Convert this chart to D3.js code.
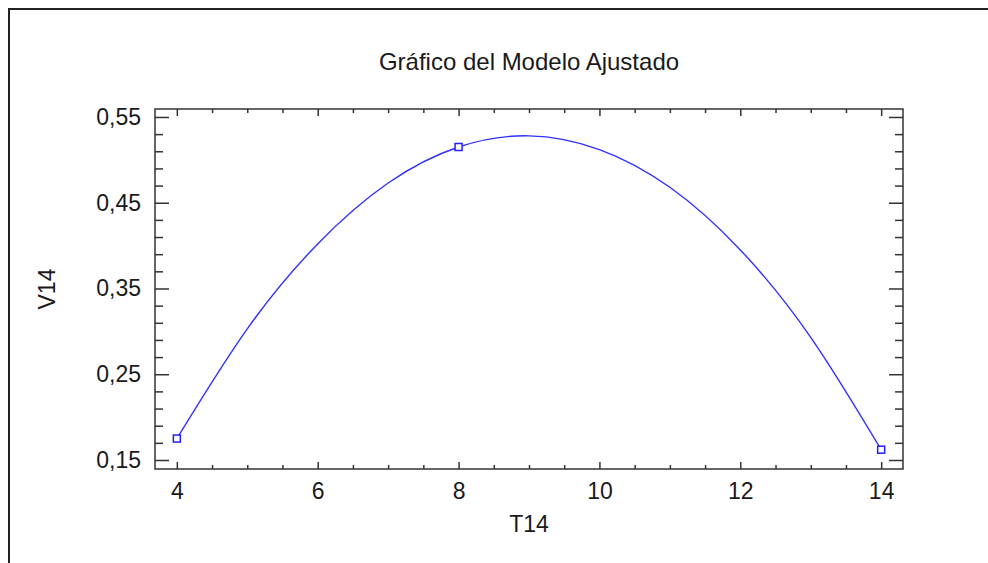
<!DOCTYPE html>
<html>
<head>
<meta charset="utf-8">
<script src="https://cdn.jsdelivr.net/npm/d3@7"></script>
<style>
    body { margin: 0; background: #fff; }
    svg text { font-family: "Liberation Sans", Arial, sans-serif; fill: #1a1a1a; }
</style>
</head>
<body>
<svg width="988" height="563"></svg>
<script>
// observed points
const tObs = [4, 8, 14];
const vObs = [0.175, 0.515, 0.162];

// fitted curve
const tFit = [4, 5, 6, 7, 8, 9, 10, 11, 12, 13, 14];
const vFit = [0.175, 0.303, 0.402, 0.473, 0.515, 0.528, 0.512, 0.468, 0.395, 0.293, 0.162];

const xMajor = [4, 6, 8, 10, 12, 14];
const yMajor = [0.15, 0.25, 0.35, 0.45, 0.55];

const titleText = "Gráfico del Modelo Ajustado";
const xTitle = "T14";
const yTitle = "V14";

let svg = d3.select("svg"),
    width = +svg.attr("width"),
    height = +svg.attr("height");

const plot = {left: 155, right: 903, top: 109, bottom: 469};
const fontSize = 23;

let x = d3.scaleLinear().domain([3.69, 14.31]).range([plot.left, plot.right]);
let y = d3.scaleLinear().domain([0.1395, 0.5593]).range([plot.bottom, plot.top]);

const locale = d3.formatLocale({decimal: ",", thousands: ".", grouping: [3], currency: ["", ""]});
const yFmt = locale.format(".2f");

// minor ticks
let xMinor = d3.range(4, 14.01, 0.5).filter(function (v) { return v % 2 !== 0; });
let yMinor = d3.range(0.15, 0.551, 0.02).filter(function (v) {
    return !yMajor.some(function (m) { return Math.abs(m - v) < 1e-6; });
});

// outer frame (only top/left are visible)
svg.append("rect")
    .attr("x", 9).attr("y", 9)
    .attr("width", 1200).attr("height", 800)
    .attr("fill", "none")
    .attr("stroke", "#222")
    .attr("stroke-width", 2);

let g = svg.append("g");

function styleAxis(sel) {
    sel.select(".domain").remove();
    sel.selectAll("line").attr("stroke", "#333").attr("stroke-width", 1.5);
    sel.selectAll("text").attr("font-size", fontSize).attr("font-family", "Liberation Sans, Arial, sans-serif").attr("fill", "#1a1a1a");
}

// bottom
g.append("g").attr("transform", "translate(0," + plot.bottom + ")")
    .call(d3.axisBottom(x).tickValues(xMajor).tickSize(-7).tickPadding(14).tickFormat(d3.format("d")))
    .call(styleAxis);
g.append("g").attr("transform", "translate(0," + plot.bottom + ")")
    .call(d3.axisBottom(x).tickValues(xMinor).tickSize(-4).tickFormat(""))
    .call(styleAxis);
// top
g.append("g").attr("transform", "translate(0," + plot.top + ")")
    .call(d3.axisTop(x).tickValues(xMajor).tickSize(-7).tickFormat(""))
    .call(styleAxis);
g.append("g").attr("transform", "translate(0," + plot.top + ")")
    .call(d3.axisTop(x).tickValues(xMinor).tickSize(-4).tickFormat(""))
    .call(styleAxis);
// left
g.append("g").attr("transform", "translate(" + plot.left + ",0)")
    .call(d3.axisLeft(y).tickValues(yMajor).tickSize(-14).tickPadding(14).tickFormat(yFmt))
    .call(styleAxis);
g.append("g").attr("transform", "translate(" + plot.left + ",0)")
    .call(d3.axisLeft(y).tickValues(yMinor).tickSize(-8).tickFormat(""))
    .call(styleAxis);
// right
g.append("g").attr("transform", "translate(" + plot.right + ",0)")
    .call(d3.axisRight(y).tickValues(yMajor).tickSize(-14).tickFormat(""))
    .call(styleAxis);
g.append("g").attr("transform", "translate(" + plot.right + ",0)")
    .call(d3.axisRight(y).tickValues(yMinor).tickSize(-8).tickFormat(""))
    .call(styleAxis);

// plot box
g.append("rect")
    .attr("x", plot.left).attr("y", plot.top)
    .attr("width", plot.right - plot.left)
    .attr("height", plot.bottom - plot.top)
    .attr("fill", "none")
    .attr("stroke", "#333")
    .attr("stroke-width", 1.5);

// fitted curve
let fitData = tFit.map(function (t, i) { return [t, vFit[i]]; });
let line = d3.line()
    .x(function (d) { return x(d[0]); })
    .y(function (d) { return y(d[1]); })
    .curve(d3.curveNatural);

g.append("path")
    .datum(fitData)
    .attr("d", line)
    .attr("fill", "none")
    .attr("stroke", "#3030ff")
    .attr("stroke-width", 1.4);

// observed points
let obsData = tObs.map(function (t, i) { return [t, vObs[i]]; });
const sq = 7;
g.selectAll(".pt")
    .data(obsData)
    .join("rect")
    .attr("class", "pt")
    .attr("x", function (d) { return x(d[0]) - sq / 2; })
    .attr("y", function (d) { return y(d[1]) - sq / 2; })
    .attr("width", sq)
    .attr("height", sq)
    .attr("fill", "#fff")
    .attr("stroke", "#1f1fff")
    .attr("stroke-width", 1.5);

// titles
let cx = (plot.left + plot.right) / 2;
svg.append("text")
    .attr("x", cx).attr("y", 70)
    .attr("text-anchor", "middle")
    .attr("font-size", 24)
    .text(titleText);

svg.append("text")
    .attr("x", cx).attr("y", 532)
    .attr("text-anchor", "middle")
    .attr("font-size", fontSize)
    .text(xTitle);

svg.append("text")
    .attr("transform", "translate(55," + ((plot.top + plot.bottom) / 2) + ") rotate(-90)")
    .attr("text-anchor", "middle")
    .attr("font-size", fontSize)
    .text(yTitle);
</script>
</body>
</html>
